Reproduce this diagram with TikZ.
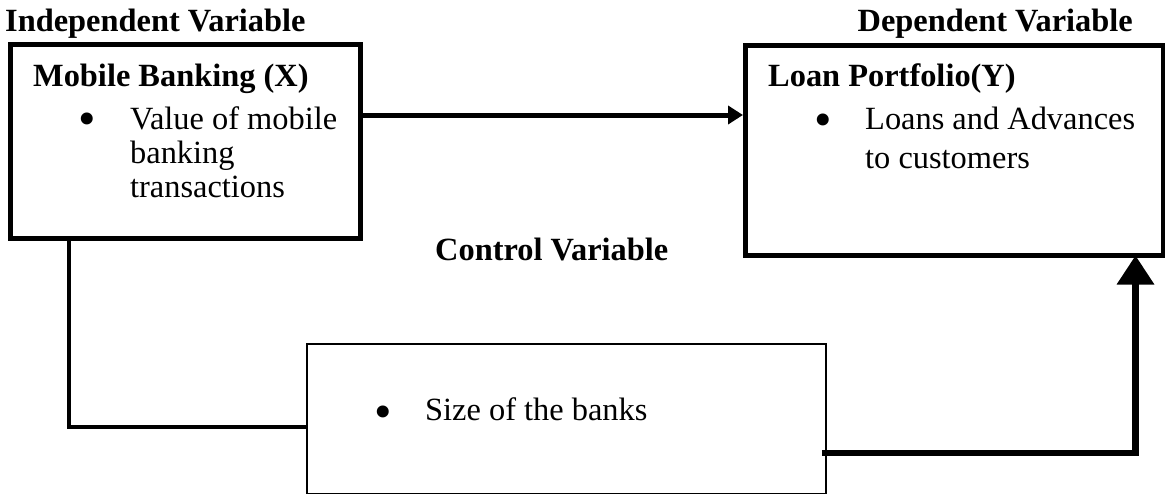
\documentclass[tikz,border=0pt]{standalone}
\usepackage{fontspec}
\setmainfont{Liberation Serif}
\usetikzlibrary{arrows.meta}
\begin{document}
\begin{tikzpicture}[x=1pt,y=-1pt,
  bigbox/.style={draw=black,line width=5pt,rectangle,inner sep=0pt},
  smallbox/.style={draw=black,line width=1.5pt,rectangle,inner sep=0pt},
  txt/.style={inner sep=0pt,anchor=base west,font=\fontsize{32.4}{36}\selectfont},
  btxt/.style={txt,font=\fontsize{32.4}{36}\selectfont\bfseries},
  bul/.style={inner sep=0pt,anchor=center,font=\fontsize{50}{50}\selectfont},
  thinconn/.style={line width=4pt},
  midarrow/.style={line width=5pt,-{Triangle[length=15pt,width=18pt]}},
  bigarrow/.style={line width=6.5pt,-{Triangle[length=29pt,width=36pt]}}]
\useasboundingbox (0,0) rectangle (1165,495);
% boxes
\node[bigbox,minimum width=350pt,minimum height=193.5pt] (mb) at (185,141.25) {};
\node[bigbox,minimum width=417.5pt,minimum height=209.5pt] (lp) at (954.25,150.25) {};
\node[smallbox,minimum width=519pt,minimum height=149.5pt] (cv) at (566.5,418.75) {};
% headings
\node[btxt] (ivh) at (5,31.5) {Independent Variable};
\node[btxt,anchor=base east] (dvh) at (1133,31.5) {Dependent Variable};
\node[btxt] (cvh) at (435,260) {Control Variable};
% box 1 text
\node[btxt] (mbt) at (33,87) {Mobile Banking (X)};
\node[bul] (mbb) at (87,124.5) {•};
\node[txt] (mb1) at (130,129) {Value of mobile};
\node[txt] (mb2) at (130,163) {banking};
\node[txt] (mb3) at (130,197) {transactions};
% box 2 text
\node[btxt] (lpt) at (768,87) {Loan Portfolio(Y)};
\node[bul] (lpb) at (823,125) {•};
\node[txt] (lp1) at (865,129) {Loans and Advances};
\node[txt] (lp2) at (865,168) {to customers};
% box 3 text
\node[bul] (cvb) at (383,417) {•};
\node[txt] (cv1) at (425,420) {Size of the banks};
% connectors
\draw[midarrow] ([yshift=26.25pt]mb.east) coordinate (a1) -- (a1 -| lp.west);
\draw[thinconn] ([xshift=61pt]mb.south west) |- ([yshift=-8.25pt]cv.west);
\draw[bigarrow] ([xshift=-5pt,yshift=-34.25pt]cv.east) -| ([xshift=-30pt,yshift=2pt]lp.south east);
\end{tikzpicture}
\end{document}
